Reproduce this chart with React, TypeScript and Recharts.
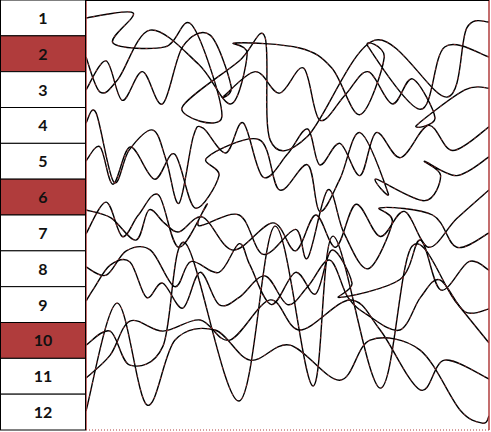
import React from 'react';
import { LineChart, Line, XAxis, YAxis, ReferenceLine } from 'recharts';

const ROW_LABELS = ['1', '2', '3', '4', '5', '6', '7', '8', '9', '10', '11', '12'];
const HIGHLIGHTED = ['2', '6', '10'];
const ROW_TICKS = [0.5, 1.5, 2.5, 3.5, 4.5, 5.5, 6.5, 7.5, 8.5, 9.5, 10.5, 11.5];

// each curve: [x (percent across), y (rows from top)]
const curve1 = [[0,.5],[11.7,.36],[6.7,1.2],[19.6,1.31],[26.3,.7],[33.7,3.27],[23.8,3.01],[38,1.7],[44.4,1.03],[45.7,3.91],[55,3.8],[71.7,1.12],[89.6,2.71],[94.5,.78],[100,.61]];
const curve2 = [[0,1.59],[3.5,2.57],[8,2.2],[15.9,.84],[28,1.8],[36,2.9],[40,1.5],[37,1.2],[53,1.34],[61,1.9],[68,3.2],[74,1.6],[70,1.3],[83,3.05],[89,1.31],[100,1.59]];
const curve3 = [[0,2.51],[5,1.7],[9,2.8],[14,2.0],[19,2.9],[24,1.3],[30.8,.98],[36,2.4],[34,2.7],[42,2.0],[48,2.6],[54,1.9],[58,3.35],[64.3,2.65],[70,2.0],[76,2.9],[81,2.2],[86.6,3.29],[82,3.5],[94,2.51],[100,2.46]];
const curve4 = [[0,3.43],[2.5,3.15],[6.9,5.08],[10.7,4.19],[16.6,3.63],[19.9,4.47],[23.1,5.67],[26.6,3.82],[29,3.57],[34.7,4.27],[39,3.43],[43.9,4.94],[50,4.3],[55,3.6],[58,4.6],[63,4.0],[68,4.9],[72,3.7],[78,4.4],[85,3.5],[91,4.2],[100,3.54]];
const curve5 = [[0,4.49],[3.5,4.1],[6.7,5.14],[11,4.1],[17,5.0],[22,4.3],[27,5.8],[33,4.9],[30,4.4],[43,3.9],[48,5.3],[55,4.6],[58,5.9],[63,5.0],[68,3.7],[75,5.4],[72,5.0],[84,5.6],[88,4.9],[84,4.5],[92,4.9],[100,4.38]];
const curve6 = [[0,5.86],[6.2,6.08],[12.4,6.7],[15.6,5.86],[19.4,6.22],[23.1,6.47],[29,6.06],[36.5,6.98],[46.4,6.22],[52,7.0],[57,6.0],[62,6.9],[67,5.7],[73,6.6],[79,5.9],[85,6.9],[92,6.1],[100,5.3]];
const curve7 = [[0,6.53],[5,5.64],[9,6.6],[13,6.0],[18,5.44],[23,6.9],[30,5.7],[28,6.3],[38,6.0],[44,7.1],[52,6.4],[55,7.2],[60,5.3],[64,6.5],[70,7.5],[76,6.2],[73,5.8],[86,6.0],[92,6.9],[100,6.5]];
const curve8 = [[0,7.45],[5,7.68],[10,7.0],[16,6.98],[22,8.0],[26,7.3],[33,7.6],[38,6.8],[40.7,7.4],[46,8.5],[52,7.6],[57,8.2],[61,6.98],[66,7.9],[63,8.3],[77.9,7.8],[83,6.7],[88,8.09],[95,7.3],[100,7.54]];
const curve9 = [[0,8.4],[2,8.04],[6,7.4],[10.9,7.31],[15,8.3],[19,7.9],[24,8.6],[28.3,7.6],[33,8.5],[38,8.3],[44.4,7.7],[50,8.5],[55,8.0],[60.5,7.26],[65,8.3],[70,8.8],[77.9,9.21],[83,8.3],[87.8,7.81],[94,8.7],[100,8.62]];
const curve10 = [[0,9.63],[6,9.24],[10.9,10.19],[19.1,9.66],[24.6,6.78],[38,11.19],[46.9,6.31],[56.3,10.77],[61.3,6.59],[73,10.83],[80.9,6.87],[91.6,8.4],[100,9.57]];
const curve11 = [[0,10.55],[6,9.91],[10.9,8.96],[19.1,9.24],[28.3,8.93],[35.7,9.49],[45.7,8.37],[53.1,9.21],[65.5,8.37],[73,9.21],[82.9,10.88],[89,10.05],[100,10.58]];
const curve12 = [[0,11.47],[7.7,8.46],[15.1,11.3],[22.1,9.49],[32,9.21],[40.7,10.05],[50.6,9.63],[63,10.61],[70.5,9.49],[82.9,9.77],[92.8,11.44],[98.5,11.81],[100,11.61]];

const CURVES = [curve1, curve2, curve3, curve4, curve5, curve6, curve7, curve8, curve9, curve10, curve11, curve12];

const toData = (c: number[][]) => c.map(([x, y]) => ({ x, y }));

// Smooth (Catmull-Rom style) curve that follows points in order, allowing loops
const smoothCurve: any = (context: any) => {
  let xs: number[] = [];
  let ys: number[] = [];
  return {
    areaStart() {},
    areaEnd() {},
    lineStart() { xs = []; ys = []; },
    lineEnd() {
      const n = xs.length;
      if (!n) return;
      context.moveTo(xs[0], ys[0]);
      for (let i = 0; i < n - 1; i++) {
        const a = Math.max(i - 1, 0);
        const d = Math.min(i + 2, n - 1);
        context.bezierCurveTo(
          xs[i] + (xs[i + 1] - xs[a]) / 6,
          ys[i] + (ys[i + 1] - ys[a]) / 6,
          xs[i + 1] - (xs[d] - xs[i]) / 6,
          ys[i + 1] - (ys[d] - ys[i]) / 6,
          xs[i + 1],
          ys[i + 1]
        );
      }
    },
    point(x: number, y: number) { xs.push(+x); ys.push(+y); },
  };
};

const RED = '#B03C3C';

const RowTick = (props: any) => {
  const { y, payload } = props;
  const idx = Math.floor(payload.value);
  const label = ROW_LABELS[idx];
  const h = 430 / 12;
  const fill = HIGHLIGHTED.includes(label) ? RED : '#ffffff';
  return (
    <g>
      <rect x={0.5} y={y - h / 2} width={85} height={h} fill={fill} stroke="#000" strokeWidth={1} />
      <text x={43} y={y} dy={6} textAnchor="middle" fontSize={16} fontWeight="bold" fontFamily="Lato, 'Open Sans', sans-serif" fill="#111">
        {label}
      </text>
    </g>
  );
};

export default function App() {
  return (
    <div style={{ position: 'absolute', left: 0, top: 0 }}>
      <LineChart width={491} height={432} margin={{ top: 0, right: 2, bottom: 2, left: 0 }}>
        <XAxis type="number" dataKey="x" domain={[0, 100]} hide allowDataOverflow />
        <YAxis
          type="number"
          dataKey="y"
          domain={[0, 12]}
          reversed
          ticks={ROW_TICKS}
          interval={0}
          width={86}
          axisLine={false}
          tickLine={false}
          tick={<RowTick />}
          allowDataOverflow
        />
        <ReferenceLine y={12} stroke={RED} strokeDasharray="1 2" />
        {CURVES.map((c, i) => (
          <Line
            key={'b' + i}
            data={toData(c)}
            dataKey="y"
            type={smoothCurve}
            stroke="#000"
            strokeWidth={1.4}
            dot={false}
            activeDot={false}
            isAnimationActive={false}
          />
        ))}
        {CURVES.map((c, i) => (
          <Line
            key={'r' + i}
            data={toData(c)}
            dataKey="y"
            type={smoothCurve}
            stroke={RED}
            strokeWidth={1}
            strokeDasharray="2 5"
            strokeOpacity={0.7}
            dot={false}
            activeDot={false}
            isAnimationActive={false}
          />
        ))}
        <ReferenceLine x={0} stroke={RED} strokeWidth={1.5} />
        <ReferenceLine x={100} stroke={RED} strokeWidth={1.5} />
        <ReferenceLine y={0} stroke="#000" strokeWidth={2} />
      </LineChart>
    </div>
  );
}
